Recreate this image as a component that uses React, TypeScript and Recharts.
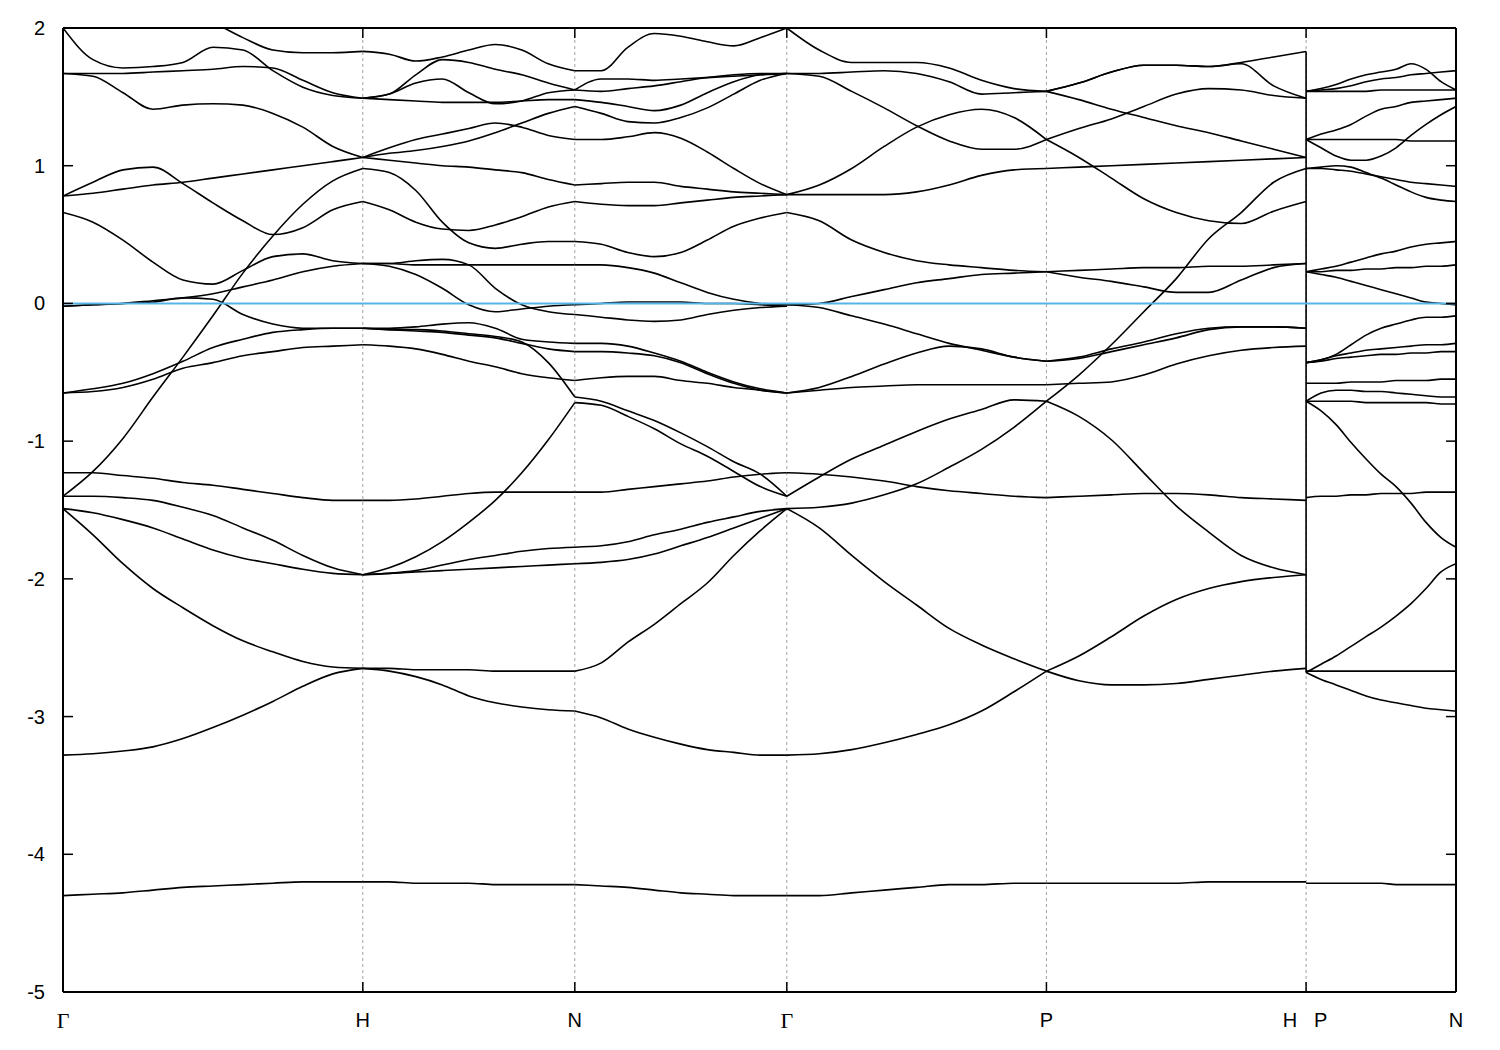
import { LineChart, Line, XAxis, YAxis, CartesianGrid, ReferenceLine } from "recharts";

// high-symmetry points along the path (2π/a units)
const symK = [0, 1, 1.7071, 2.4142, 3.2802, 4.1463, 4.6463];
const symLabels = ["Γ", "H", "N", "Γ", "P", "H|P", "N"];
const energyTicks = [-5, -4, -3, -2, -1, 0, 1, 2];

// k samples for each path segment
const kGH = [0, 0.1, 0.2, 0.3, 0.4, 0.5, 0.6, 0.7, 0.8, 0.9, 1.0];
const kHN = [1, 1.0884, 1.1768, 1.2652, 1.3536, 1.4419, 1.5303, 1.6187, 1.7071];
const kNG = [1.7071, 1.7955, 1.8839, 1.9723, 2.0607, 2.149, 2.2374, 2.3258, 2.4142];
const kGP = [2.4142, 2.5225, 2.6307, 2.739, 2.8472, 2.9555, 3.0637, 3.172, 3.2802];
const kPH = [3.2802, 3.3885, 3.4968, 3.605, 3.7133, 3.8215, 3.9298, 4.038, 4.1463];
const kPN = [4.1463, 4.1963, 4.2463, 4.2963, 4.3463, 4.3963, 4.4463, 4.4963, 4.5463, 4.5963, 4.6463];

// band energies (eV) read along each segment
const bandsGH = [
  [2.0, 1.77, 1.71, 1.72, 1.75, 1.86, 1.84, 1.69, 1.57, 1.51, 1.49],
  [2.45, 2.38, 2.3, 2.22, 2.13, 2.04, 1.93, 1.84, 1.82, 1.82, 1.83],
  [1.67, 1.67, 1.67, 1.68, 1.69, 1.7, 1.72, 1.71, 1.62, 1.53, 1.49],
  [1.67, 1.65, 1.53, 1.41, 1.44, 1.45, 1.44, 1.38, 1.28, 1.14, 1.06],
  [0.78, 0.8, 0.83, 0.86, 0.88, 0.91, 0.94, 0.97, 1.0, 1.03, 1.06],
  [0.78, 0.88, 0.97, 0.99, 0.87, 0.73, 0.6, 0.5, 0.55, 0.68, 0.74],
  [-1.4, -1.22, -0.98, -0.68, -0.39, -0.09, 0.22, 0.49, 0.72, 0.89, 0.98],
  [-1.23, -1.23, -1.25, -1.27, -1.3, -1.32, -1.35, -1.38, -1.41, -1.43, -1.43],
  [-1.4, -1.4, -1.41, -1.43, -1.48, -1.54, -1.63, -1.72, -1.83, -1.92, -1.97],
  [-1.49, -1.52, -1.57, -1.63, -1.71, -1.79, -1.85, -1.89, -1.93, -1.96, -1.97],
  [-1.49, -1.68, -1.89, -2.07, -2.21, -2.34, -2.45, -2.53, -2.6, -2.64, -2.65],
  [-3.28, -3.27, -3.25, -3.22, -3.16, -3.08, -2.99, -2.89, -2.78, -2.69, -2.65],
  [-4.3, -4.29, -4.28, -4.26, -4.24, -4.23, -4.22, -4.21, -4.2, -4.2, -4.2],
  [0.66, 0.59, 0.46, 0.3, 0.17, 0.14, 0.24, 0.34, 0.36, 0.31, 0.29],
  [-0.02, -0.01, 0.0, 0.02, 0.04, 0.07, 0.12, 0.17, 0.23, 0.27, 0.29],
  [-0.02, -0.01, 0.0, 0.01, 0.04, 0.03, -0.08, -0.15, -0.18, -0.18, -0.18],
  [-0.65, -0.62, -0.58, -0.51, -0.42, -0.32, -0.26, -0.21, -0.19, -0.18, -0.18],
  [-0.65, -0.64, -0.61, -0.55, -0.47, -0.43, -0.38, -0.35, -0.32, -0.31, -0.3],
];

const bandsHN = [
  [1.83, 1.81, 1.76, 1.79, 1.84, 1.88, 1.84, 1.74, 1.69],
  [1.49, 1.52, 1.66, 1.77, 1.75, 1.7, 1.66, 1.6, 1.55],
  [1.49, 1.52, 1.6, 1.63, 1.53, 1.45, 1.47, 1.53, 1.55],
  [1.49, 1.48, 1.47, 1.46, 1.46, 1.46, 1.47, 1.48, 1.48],
  [1.06, 1.13, 1.19, 1.23, 1.27, 1.31, 1.28, 1.22, 1.19],
  [1.06, 1.09, 1.11, 1.14, 1.18, 1.24, 1.31, 1.38, 1.43],
  [1.06, 1.04, 1.02, 1.0, 0.99, 0.97, 0.95, 0.9, 0.86],
  [0.98, 0.95, 0.82, 0.59, 0.44, 0.4, 0.43, 0.45, 0.45],
  [0.74, 0.68, 0.59, 0.54, 0.53, 0.57, 0.63, 0.7, 0.74],
  [0.29, 0.27, 0.21, 0.11, -0.01, -0.06, -0.04, -0.02, -0.01],
  [0.29, 0.29, 0.31, 0.32, 0.28, 0.11, -0.01, -0.06, -0.08],
  [0.29, 0.29, 0.28, 0.28, 0.28, 0.28, 0.28, 0.28, 0.28],
  [-0.18, -0.18, -0.17, -0.15, -0.14, -0.18, -0.26, -0.28, -0.29],
  [-0.18, -0.19, -0.19, -0.2, -0.22, -0.24, -0.28, -0.43, -0.68],
  [-0.18, -0.19, -0.2, -0.21, -0.23, -0.25, -0.29, -0.33, -0.35],
  [-0.3, -0.31, -0.33, -0.37, -0.42, -0.46, -0.51, -0.54, -0.56],
  [-1.97, -1.92, -1.84, -1.73, -1.59, -1.43, -1.23, -0.99, -0.72],
  [-1.43, -1.43, -1.42, -1.4, -1.38, -1.37, -1.37, -1.37, -1.37],
  [-1.97, -1.96, -1.94, -1.9, -1.86, -1.83, -1.8, -1.78, -1.77],
  [-1.97, -1.96, -1.95, -1.94, -1.93, -1.92, -1.91, -1.9, -1.89],
  [-2.65, -2.65, -2.66, -2.66, -2.66, -2.67, -2.67, -2.67, -2.67],
  [-2.65, -2.67, -2.71, -2.77, -2.85, -2.9, -2.93, -2.95, -2.96],
  [-4.2, -4.2, -4.21, -4.21, -4.21, -4.22, -4.22, -4.22, -4.22],
];

const bandsNG = [
  [1.69, 1.69, 1.86, 1.96, 1.94, 1.9, 1.87, 1.93, 2.0],
  [1.55, 1.54, 1.56, 1.58, 1.61, 1.64, 1.66, 1.67, 1.67],
  [1.55, 1.63, 1.63, 1.62, 1.63, 1.64, 1.65, 1.66, 1.67],
  [1.48, 1.46, 1.43, 1.4, 1.44, 1.53, 1.61, 1.66, 1.67],
  [1.43, 1.38, 1.32, 1.31, 1.35, 1.42, 1.52, 1.62, 1.67],
  [1.19, 1.19, 1.21, 1.24, 1.2, 1.1, 0.98, 0.87, 0.79],
  [0.86, 0.87, 0.88, 0.88, 0.85, 0.83, 0.81, 0.8, 0.79],
  [0.74, 0.72, 0.71, 0.71, 0.73, 0.75, 0.77, 0.78, 0.79],
  [0.45, 0.43, 0.37, 0.34, 0.37, 0.46, 0.56, 0.62, 0.66],
  [0.28, 0.28, 0.26, 0.22, 0.15, 0.08, 0.03, 0.0, -0.01],
  [-0.01, 0.0, 0.01, 0.01, 0.01, 0.0, 0.0, -0.01, -0.02],
  [-0.08, -0.1, -0.12, -0.13, -0.12, -0.08, -0.05, -0.03, -0.02],
  [-0.29, -0.29, -0.31, -0.36, -0.42, -0.5, -0.57, -0.62, -0.65],
  [-0.35, -0.35, -0.36, -0.38, -0.43, -0.51, -0.58, -0.63, -0.65],
  [-0.56, -0.54, -0.53, -0.53, -0.56, -0.58, -0.61, -0.63, -0.65],
  [-0.68, -0.71, -0.78, -0.85, -0.94, -1.04, -1.15, -1.24, -1.4],
  [-0.72, -0.74, -0.82, -0.91, -1.02, -1.11, -1.22, -1.33, -1.4],
  [-1.37, -1.37, -1.35, -1.33, -1.31, -1.29, -1.26, -1.24, -1.23],
  [-1.77, -1.76, -1.73, -1.68, -1.64, -1.59, -1.55, -1.51, -1.49],
  [-1.89, -1.88, -1.86, -1.82, -1.76, -1.7, -1.63, -1.56, -1.49],
  [-2.67, -2.61, -2.46, -2.33, -2.18, -2.03, -1.83, -1.65, -1.49],
  [-2.96, -3.01, -3.09, -3.15, -3.2, -3.24, -3.26, -3.28, -3.28],
  [-4.22, -4.23, -4.24, -4.26, -4.28, -4.29, -4.3, -4.3, -4.3],
];

const bandsGP = [
  [2.0, 1.84, 1.75, 1.75, 1.75, 1.71, 1.62, 1.56, 1.54],
  [1.67, 1.67, 1.68, 1.69, 1.67, 1.61, 1.52, 1.53, 1.54],
  [1.67, 1.65, 1.54, 1.42, 1.29, 1.18, 1.12, 1.12, 1.19],
  [0.79, 0.86, 0.98, 1.14, 1.28, 1.37, 1.41, 1.35, 1.19],
  [0.79, 0.79, 0.79, 0.79, 0.81, 0.86, 0.93, 0.97, 0.98],
  [0.66, 0.6, 0.46, 0.37, 0.31, 0.28, 0.26, 0.24, 0.23],
  [-0.01, 0.0, 0.05, 0.1, 0.15, 0.18, 0.21, 0.22, 0.23],
  [-0.01, -0.03, -0.09, -0.15, -0.22, -0.29, -0.34, -0.39, -0.42],
  [-0.65, -0.61, -0.53, -0.44, -0.36, -0.31, -0.33, -0.39, -0.42],
  [-0.65, -0.63, -0.61, -0.6, -0.59, -0.59, -0.59, -0.59, -0.59],
  [-1.4, -1.26, -1.13, -1.03, -0.93, -0.84, -0.77, -0.7, -0.71],
  [-1.23, -1.24, -1.26, -1.29, -1.33, -1.36, -1.38, -1.4, -1.41],
  [-1.49, -1.48, -1.45, -1.39, -1.31, -1.19, -1.06, -0.9, -0.71],
  [-1.49, -1.63, -1.83, -2.02, -2.19, -2.36, -2.48, -2.58, -2.67],
  [-3.28, -3.27, -3.24, -3.19, -3.13, -3.06, -2.96, -2.82, -2.67],
  [-4.3, -4.3, -4.28, -4.26, -4.24, -4.22, -4.22, -4.21, -4.21],
];

const bandsPH = [
  [1.54, 1.6, 1.68, 1.73, 1.73, 1.72, 1.75, 1.79, 1.83],
  [1.54, 1.6, 1.68, 1.73, 1.73, 1.72, 1.74, 1.58, 1.49],
  [1.19, 1.27, 1.34, 1.43, 1.52, 1.56, 1.55, 1.51, 1.49],
  [1.54, 1.48, 1.41, 1.35, 1.29, 1.24, 1.18, 1.12, 1.06],
  [1.19, 1.06, 0.91, 0.76, 0.66, 0.6, 0.58, 0.67, 0.74],
  [0.98, 0.99, 1.0, 1.01, 1.02, 1.03, 1.04, 1.05, 1.06],
  [-0.71, -0.52, -0.3, -0.06, 0.18, 0.47, 0.66, 0.88, 0.98],
  [0.23, 0.19, 0.16, 0.12, 0.08, 0.08, 0.17, 0.26, 0.29],
  [0.23, 0.24, 0.25, 0.26, 0.26, 0.27, 0.27, 0.28, 0.29],
  [-0.42, -0.4, -0.35, -0.3, -0.25, -0.19, -0.17, -0.17, -0.18],
  [-0.42, -0.39, -0.33, -0.28, -0.22, -0.18, -0.17, -0.17, -0.18],
  [-0.59, -0.58, -0.57, -0.52, -0.44, -0.38, -0.34, -0.32, -0.31],
  [-0.71, -0.82, -0.99, -1.23, -1.47, -1.66, -1.83, -1.92, -1.97],
  [-1.41, -1.4, -1.39, -1.38, -1.38, -1.39, -1.41, -1.42, -1.43],
  [-2.67, -2.56, -2.42, -2.27, -2.15, -2.07, -2.02, -1.99, -1.97],
  [-2.67, -2.74, -2.77, -2.77, -2.76, -2.73, -2.7, -2.67, -2.65],
  [-4.21, -4.21, -4.21, -4.21, -4.21, -4.2, -4.2, -4.2, -4.2],
];

const bandsPN = [
  [1.54, 1.56, 1.59, 1.63, 1.66, 1.68, 1.7, 1.74, 1.7, 1.61, 1.55],
  [1.54, 1.55, 1.56, 1.58, 1.61, 1.63, 1.64, 1.66, 1.67, 1.68, 1.69],
  [1.54, 1.54, 1.54, 1.54, 1.54, 1.55, 1.55, 1.55, 1.55, 1.55, 1.55],
  [1.19, 1.23, 1.26, 1.3, 1.36, 1.41, 1.43, 1.46, 1.47, 1.48, 1.49],
  [1.19, 1.13, 1.07, 1.04, 1.04, 1.07, 1.13, 1.22, 1.3, 1.37, 1.43],
  [1.19, 1.19, 1.19, 1.19, 1.19, 1.19, 1.19, 1.18, 1.18, 1.18, 1.18],
  [0.98, 0.99, 1.0, 0.99, 0.95, 0.91, 0.86, 0.81, 0.77, 0.75, 0.74],
  [0.98, 0.98, 0.97, 0.96, 0.94, 0.92, 0.9, 0.88, 0.87, 0.86, 0.85],
  [0.23, 0.25, 0.27, 0.3, 0.33, 0.36, 0.38, 0.41, 0.43, 0.44, 0.45],
  [0.23, 0.23, 0.24, 0.24, 0.25, 0.25, 0.26, 0.26, 0.27, 0.27, 0.28],
  [0.23, 0.21, 0.19, 0.16, 0.13, 0.1, 0.07, 0.04, 0.01, 0.0, -0.01],
  [-0.43, -0.41, -0.37, -0.3, -0.23, -0.18, -0.15, -0.12, -0.1, -0.1, -0.09],
  [-0.43, -0.41, -0.38, -0.36, -0.34, -0.33, -0.32, -0.31, -0.3, -0.3, -0.29],
  [-0.43, -0.42, -0.4, -0.39, -0.38, -0.37, -0.37, -0.36, -0.36, -0.35, -0.35],
  [-0.58, -0.58, -0.58, -0.57, -0.57, -0.57, -0.56, -0.56, -0.56, -0.55, -0.55],
  [-0.71, -0.65, -0.63, -0.63, -0.64, -0.64, -0.65, -0.66, -0.67, -0.68, -0.68],
  [-0.71, -0.71, -0.71, -0.71, -0.72, -0.72, -0.72, -0.72, -0.72, -0.73, -0.73],
  [-0.71, -0.78, -0.88, -1.01, -1.13, -1.24, -1.33, -1.45, -1.59, -1.7, -1.77],
  [-1.41, -1.4, -1.4, -1.39, -1.39, -1.38, -1.38, -1.38, -1.37, -1.37, -1.37],
  [-2.68, -2.62, -2.56, -2.49, -2.42, -2.35, -2.27, -2.18, -2.07, -1.95, -1.89],
  [-2.67, -2.67, -2.67, -2.67, -2.67, -2.67, -2.67, -2.67, -2.67, -2.67, -2.67],
  [-2.68, -2.73, -2.77, -2.81, -2.85, -2.88, -2.9, -2.92, -2.94, -2.95, -2.96],
  [-4.21, -4.21, -4.21, -4.21, -4.21, -4.21, -4.22, -4.22, -4.22, -4.22, -4.22],
];

const segments = [
  { k: kGH, bands: bandsGH },
  { k: kHN, bands: bandsHN },
  { k: kNG, bands: bandsNG },
  { k: kGP, bands: bandsGP },
  { k: kPH, bands: bandsPH },
  { k: kPN, bands: bandsPN },
];

// the H|P discontinuity: bands jump from their H value to their P value
const jumpValues = [
  ...bandsPH.map((b) => b[b.length - 1]),
  ...bandsPN.map((b) => b[0]),
].filter((e) => e > -4);
const jumpData = [
  { k: symK[5], e: Math.max(...jumpValues) },
  { k: symK[5], e: Math.min(...jumpValues) },
];

const SANS = "'Liberation Sans', Arial, Helvetica, sans-serif";
const SERIF = "'Liberation Serif', 'Times New Roman', serif";

function BottomTick(props: any) {
  const { x, y, payload } = props;
  const i = symK.findIndex((k) => Math.abs(k - payload.value) < 1e-6);
  const label = symLabels[i] ?? "";
  const ty = y + 28;
  const font = label === "Γ" ? SERIF : SANS;
  return (
    <g>
      <line x1={x} x2={x} y1={y} y2={y - 10} stroke="#000" strokeWidth={1.5} />
      {label === "H|P" ? (
        <>
          <text x={x - 9} y={ty} dy="0.35em" textAnchor="end" fontFamily={SANS} fontSize={20} fill="#000">
            H
          </text>
          <text x={x + 8} y={ty} dy="0.35em" textAnchor="start" fontFamily={SANS} fontSize={20} fill="#000">
            P
          </text>
        </>
      ) : (
        <text x={x} y={ty} dy="0.35em" textAnchor="middle" fontFamily={font} fontSize={label === "Γ" ? 22 : 20} fill="#000">
          {label}
        </text>
      )}
    </g>
  );
}

function TopTick(props: any) {
  const { x, y } = props;
  return <line x1={x} x2={x} y1={y} y2={y + 10} stroke="#000" strokeWidth={1.5} />;
}

function LeftTick(props: any) {
  const { x, y, payload } = props;
  return (
    <g>
      <line x1={x} x2={x + 10} y1={y} y2={y} stroke="#000" strokeWidth={1.5} />
      <text x={x - 18} y={y} dy="0.35em" textAnchor="end" fontFamily={SANS} fontSize={20} fill="#000">
        {payload.value}
      </text>
    </g>
  );
}

function RightTick(props: any) {
  const { x, y } = props;
  return <line x1={x - 10} x2={x} y1={y} y2={y} stroke="#000" strokeWidth={1.5} />;
}

export default function App() {
  const kMax = symK[symK.length - 1];
  return (
    <div style={{ position: "absolute", left: 0, top: 0, background: "#fff" }}>
      <LineChart width={1500} height={1050} margin={{ top: 27, right: 43, bottom: 0, left: 0 }}>
        <CartesianGrid horizontal={false} stroke="#a0a0a0" strokeDasharray="3 3" />
        <XAxis
          type="number"
          dataKey="k"
          domain={[0, kMax]}
          ticks={symK}
          interval={0}
          height={58}
          tickSize={0}
          tickMargin={0}
          tickLine={false}
          tick={<BottomTick />}
          axisLine={{ stroke: "#000", strokeWidth: 2 }}
          allowDataOverflow
        />
        <XAxis
          xAxisId="top"
          orientation="top"
          type="number"
          dataKey="k"
          domain={[0, kMax]}
          ticks={symK}
          interval={0}
          height={1}
          tickSize={0}
          tickMargin={0}
          tickLine={false}
          tick={<TopTick />}
          axisLine={{ stroke: "#000", strokeWidth: 2 }}
          allowDataOverflow
        />
        <YAxis
          type="number"
          domain={[-5, 2]}
          ticks={energyTicks}
          interval={0}
          width={63}
          tickSize={0}
          tickMargin={0}
          tickLine={false}
          tick={<LeftTick />}
          axisLine={{ stroke: "#000", strokeWidth: 2 }}
          allowDataOverflow
        />
        <YAxis
          yAxisId="right"
          orientation="right"
          type="number"
          domain={[-5, 2]}
          ticks={energyTicks}
          interval={0}
          width={1}
          tickSize={0}
          tickMargin={0}
          tickLine={false}
          tick={<RightTick />}
          axisLine={{ stroke: "#000", strokeWidth: 2 }}
          allowDataOverflow
        />
        {/* jump line is bound to the mirrored axes so that they get drawn */}
        <Line
          data={jumpData}
          xAxisId="top"
          yAxisId="right"
          dataKey="e"
          type="linear"
          stroke="#000"
          strokeWidth={1.6}
          dot={false}
          activeDot={false}
          isAnimationActive={false}
        />
        {segments.flatMap((seg, si) =>
          seg.bands.map((band, bi) => (
            <Line
              key={`s${si}-b${bi}`}
              data={band.map((e, i) => ({ k: seg.k[i], e }))}
              dataKey="e"
              type="monotone"
              stroke="#000"
              strokeWidth={1.6}
              dot={false}
              activeDot={false}
              isAnimationActive={false}
            />
          ))
        )}
        <ReferenceLine y={0} stroke="#56B4E9" strokeWidth={2} />
      </LineChart>
    </div>
  );
}
